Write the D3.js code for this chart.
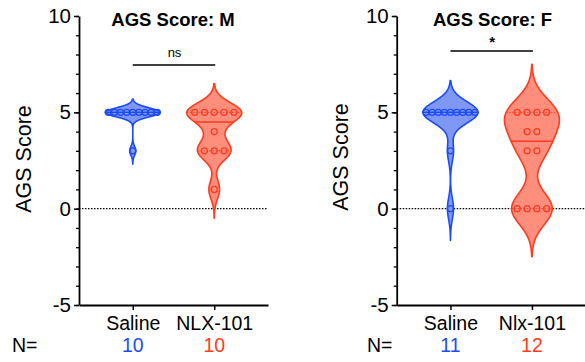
<!DOCTYPE html>
<html>
<head>
<meta charset="utf-8">
<script src="https://cdn.jsdelivr.net/npm/d3@7"></script>
<style>
  html, body { margin: 0; padding: 0; background: #fff; }
  svg { display: block; font-family: "Liberation Sans", Arial, sans-serif; }
</style>
</head>
<body>
<svg id="chart" width="585" height="362"></svg>
<script>
// ---- data ----
const panelTitles = ["AGS Score: M", "AGS Score: F"];
const maleGroups = ["Saline", "NLX-101"];
const femaleGroups = ["Saline", "Nlx-101"];
const maleSaline = [5, 5, 5, 5, 5, 5, 5, 5, 5, 3];
const maleNlx = [5, 5, 5, 5, 5, 4, 3, 3, 3, 1];
const femaleSaline = [5, 5, 5, 5, 5, 5, 5, 5, 5, 3, 0];
const femaleNlx = [5, 5, 5, 5, 4, 4, 3, 3, 0, 0, 0, 0];
const significance = ["ns", "*"];
const yTicks = [-5, 0, 5, 10];
const yLabel = "AGS Score";
// kernel bandwidth (score units) for each violin
const maleBandwidths = [0.23, 0.5];
const femaleBandwidths = [0.55, 0.83];

const BLUE = "#1c4bf8", BLUE_FILL = "#7f98f6";
const RED = "#ff3b20", RED_FILL = "#ff8e7c";

const svg = d3.select("#chart");

const y = d3.scaleLinear().domain([-5, 10]).range([305, 16]);

function kde(values, h) {
  const lo = d3.min(values) - 3 * h, hi = d3.max(values) + 3 * h;
  const grid = d3.range(lo, hi + 1e-9, 0.02);
  return grid.map(t => [t, d3.sum(values, v => Math.exp(-0.5 * ((t - v) / h) ** 2))]);
}

function drawPanel(cfg) {
  const g = svg.append("g");
  const x = d3.scalePoint().domain(cfg.groups).range([cfg.x0, cfg.x0 + 189]).padding(0.66);

  // zero reference line
  g.append("line")
    .attr("x1", cfg.x0).attr("x2", cfg.x0 + 189)
    .attr("y1", y(0)).attr("y2", y(0))
    .attr("stroke", "#000").attr("stroke-width", 1.2)
    .attr("stroke-dasharray", "1.5,1.5");

  cfg.series.forEach((vals, i) => {
    const cx = x(cfg.groups[i]);
    const col = cfg.colors[i], fill = cfg.fills[i];
    const dens = kde(vals, cfg.bw[i]);
    const w = d3.scaleLinear().domain([0, d3.max(dens, d => d[1])]).range([0, 27.5]);
    const halfAt = v => w(d3.sum(vals, u => Math.exp(-0.5 * ((v - u) / cfg.bw[i]) ** 2)));

    g.append("path")
      .datum(dens)
      .attr("d", d3.area().curve(d3.curveBasis)
        .y(d => y(d[0])).x0(d => cx - w(d[1])).x1(d => cx + w(d[1])))
      .attr("fill", fill).attr("stroke", col).attr("stroke-width", 1.6)
      .attr("stroke-linejoin", "round");

    const sorted = vals.slice().sort(d3.ascending);
    // quartiles (dotted) and median (solid)
    [0.25, 0.75].forEach(p => {
      const q = d3.quantile(sorted, p), hw = halfAt(q);
      g.append("line")
        .attr("x1", cx - hw).attr("x2", cx + hw).attr("y1", y(q)).attr("y2", y(q))
        .attr("stroke", col).attr("stroke-width", 1).attr("stroke-dasharray", "1.5,1.5");
    });
    const med = d3.median(sorted), mw = halfAt(med);
    g.append("line")
      .attr("x1", cx - mw).attr("x2", cx + mw).attr("y1", y(med)).attr("y2", y(med))
      .attr("stroke", col).attr("stroke-width", 1.4);

    // individual points, spread across the violin at tied values
    const counts = d3.rollups(vals, v => v.length, v => v);
    counts.forEach(([v, k]) => {
      const s = Math.min(9.8, (2 * halfAt(v)) / k);
      d3.range(k).forEach(j => {
        g.append("circle")
          .attr("cx", cx + (j - (k - 1) / 2) * s).attr("cy", y(v)).attr("r", 3)
          .attr("fill", "none").attr("stroke", col).attr("stroke-width", 1.3);
      });
    });
  });

  // y axis with minor ticks
  const yMinor = g.append("g").attr("transform", `translate(${cfg.x0},0)`)
    .call(d3.axisLeft(y).tickValues(d3.range(-5, 11)).tickSize(3).tickFormat("").tickSizeOuter(0));
  yMinor.select(".domain").remove();
  yMinor.selectAll("line").attr("stroke-width", 1.3);
  const yAx = g.append("g").attr("transform", `translate(${cfg.x0},0)`)
    .call(d3.axisLeft(y).tickValues(yTicks).tickFormat(d => String(d))
      .tickSize(5).tickPadding(3).tickSizeOuter(0));
  yAx.select(".domain").attr("stroke-width", 1.8);
  yAx.selectAll("line").attr("stroke-width", 1.5);
  yAx.selectAll("text").attr("font-size", 20.5).attr("font-family", "Liberation Sans, Arial, sans-serif");

  // x axis
  const xAx = g.append("g").attr("transform", `translate(0,${y(-5)})`)
    .call(d3.axisBottom(x).tickSize(5).tickPadding(6).tickSizeOuter(0));
  xAx.select(".domain").attr("stroke-width", 1.8);
  xAx.selectAll("line").attr("stroke-width", 1.5);
  xAx.selectAll("text").attr("font-size", 19.5).attr("font-family", "Liberation Sans, Arial, sans-serif");

  // axis title
  g.append("text")
    .attr("transform", `translate(${cfg.labelX},${cfg.labelY}) rotate(-90)`)
    .attr("text-anchor", "middle").attr("font-size", 21.5).text(yLabel);

  // panel title
  g.append("text")
    .attr("x", cfg.titleX).attr("y", 26).attr("text-anchor", "middle")
    .attr("font-size", 18.5).attr("font-weight", "bold").text(cfg.title);

  // significance bracket
  const bx1 = x(cfg.groups[0]), bx2 = x(cfg.groups[1]);
  g.append("line").attr("x1", bx1).attr("x2", bx2 + 1)
    .attr("y1", cfg.barY).attr("y2", cfg.barY).attr("stroke", "#000").attr("stroke-width", 1.5);
  g.append("text")
    .attr("x", (bx1 + bx2) / 2 + 1).attr("y", cfg.sigY).attr("text-anchor", "middle")
    .attr("font-size", cfg.sigSize).attr("font-weight", cfg.sigWeight).text(cfg.sig);

  // group sizes
  g.append("text").attr("x", cfg.nX).attr("y", 352).attr("font-size", 19.5).text("N=");
  cfg.series.forEach((vals, i) => {
    g.append("text").attr("x", x(cfg.groups[i])).attr("y", 352)
      .attr("text-anchor", "middle").attr("font-size", 19.5)
      .attr("fill", cfg.colors[i]).text(vals.length);
  });
}

drawPanel({
  x0: 79, groups: maleGroups, series: [maleSaline, maleNlx], bw: maleBandwidths,
  colors: [BLUE, RED], fills: [BLUE_FILL, RED_FILL],
  title: panelTitles[0], titleX: 173, labelX: 31, labelY: 159,
  sig: significance[0], sigY: 57, sigSize: 13, sigWeight: "normal", barY: 65, nX: 12
});
drawPanel({
  x0: 396.7, groups: femaleGroups, series: [femaleSaline, femaleNlx], bw: femaleBandwidths,
  colors: [BLUE, RED], fills: [BLUE_FILL, RED_FILL],
  title: panelTitles[1], titleX: 492.5, labelX: 347.5, labelY: 157,
  sig: significance[1], sigY: 47, sigSize: 15, sigWeight: "bold", barY: 51, nX: 367
});
</script>
</body>
</html>
